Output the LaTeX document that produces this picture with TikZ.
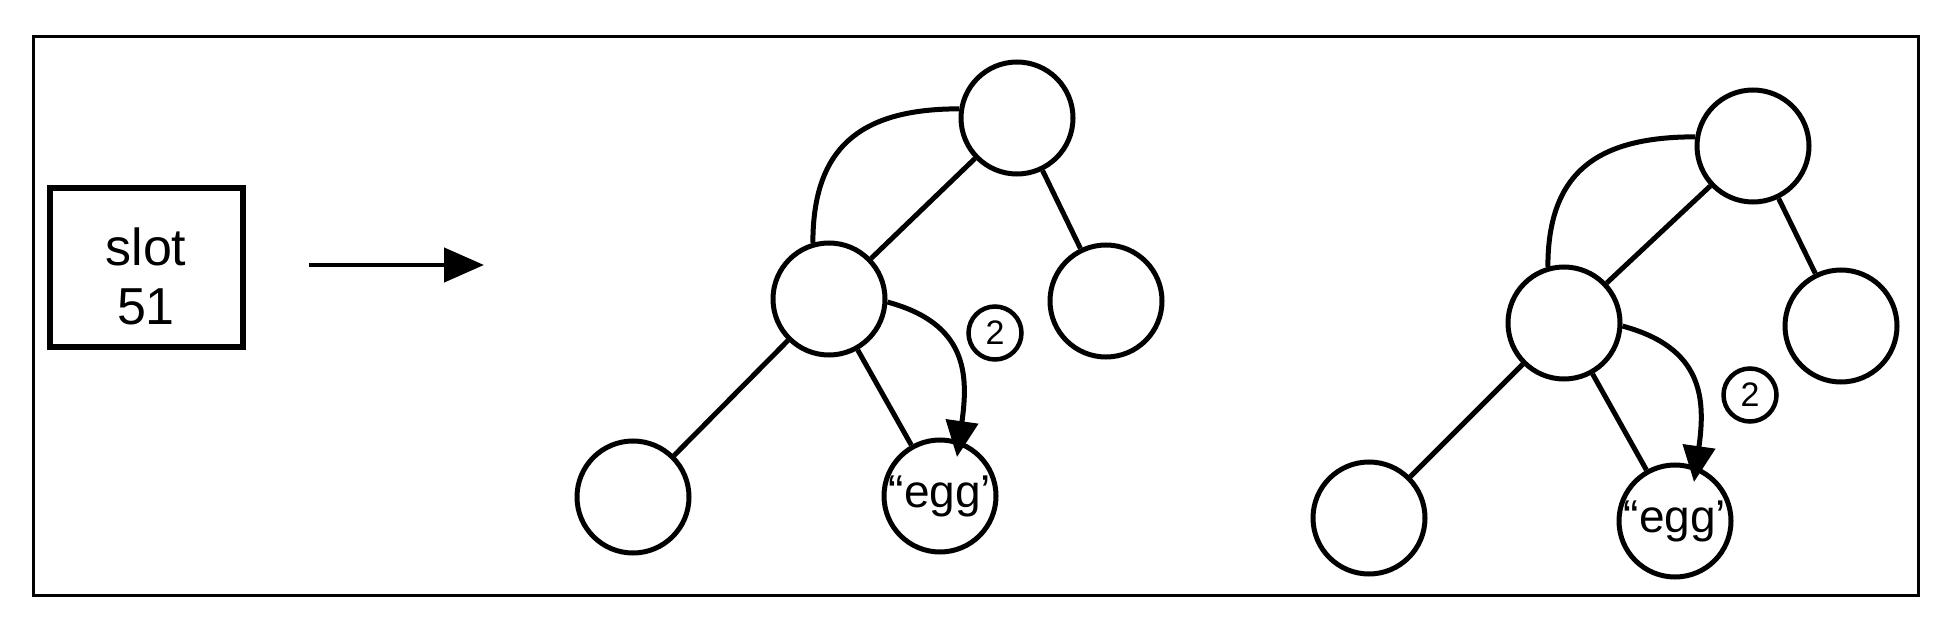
\documentclass[tikz,border=0pt]{standalone}
\usepackage{fontspec}
\setmainfont{Liberation Sans}
\usetikzlibrary{arrows.meta,calc}
\begin{document}
\begin{tikzpicture}[x=1pt,y=1pt,
  tnode/.style={circle, draw, line width=5pt, minimum size=112pt, inner sep=0pt, font=\fontsize{46}{52}\selectfont},
  edge/.style={line width=5pt},
  badge/.style={circle, draw, line width=4.5pt, minimum size=53pt, inner sep=0pt, font=\fontsize{34}{40}\selectfont},
  ptr/.style={line width=5pt, -{Triangle[length=36pt,width=32pt]}},
]
\fill[white] (0,0) rectangle (1955,-631);
\useasboundingbox (0,0) rectangle (1955,-631);
\draw[line width=3pt] (33,-37) rectangle (1918,-595);

% slot box and arrow
\node[draw, line width=5.5pt, minimum width=193pt, minimum height=159pt, inner sep=0pt] (slot) at (146.5,-267.5) {};
\node[font=\fontsize{52}{59}\selectfont, align=center, inner sep=0pt] (slottext) at (146,-276) {slot\\51};
\coordinate (a0) at (309,-265);
\coordinate (a1) at (484,-265);
\draw[line width=4.5pt, -{Triangle[length=40pt,width=34pt]}] (a0) -- (a1);

% tree 1
\node[tnode] (t1) at (1017,-118) {};
\node[tnode] (m1) at (829,-299) {};
\node[tnode] (r1) at (1106,-301) {};
\node[tnode] (b1) at (633,-497) {};
\node[tnode] (e1) at (940,-496) {“egg’};
\node[badge] (n1) at (995,-333) {2};
\draw[edge] (t1.171) to[out=180,in=90,looseness=1.25] (m1.106);
\draw[edge] (t1) -- (m1);
\draw[edge] (t1) -- (r1);
\draw[edge] (m1) -- (b1);
\draw[edge] (m1) -- (e1);
\coordinate (k1) at ($(e1)+(17,39)$);
\draw[ptr] (m1.-3) to[out=-15,in=82,looseness=1.25] (k1);

% tree 2
\node[tnode] (t2) at (1753,-146) {};
\node[tnode] (m2) at (1564,-323) {};
\node[tnode] (r2) at (1841,-326) {};
\node[tnode] (b2) at (1369,-518) {};
\node[tnode] (e2) at (1675,-521) {“egg’};
\node[badge] (n2) at (1750,-395) {2};
\draw[edge] (t2.171) to[out=180,in=90,looseness=1.25] (m2.106);
\draw[edge] (t2) -- (m2);
\draw[edge] (t2) -- (r2);
\draw[edge] (m2) -- (b2);
\draw[edge] (m2) -- (e2);
\coordinate (k2) at ($(e2)+(19,39)$);
\draw[ptr] (m2.-3) to[out=-15,in=82,looseness=1.25] (k2);
\end{tikzpicture}
\end{document}
